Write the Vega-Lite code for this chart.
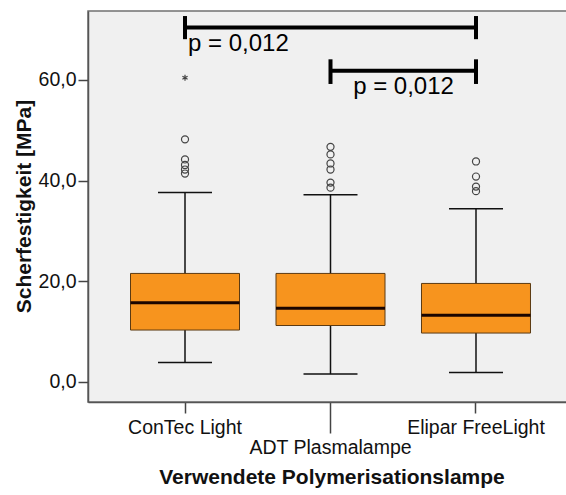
{
  "$schema": "https://vega.github.io/schema/vega-lite/v6.json",
  "width": 485,
  "height": 391,
  "autosize": {"type": "none"},
  "padding": {"left": 88, "top": 11, "right": -7, "bottom": 93},
  "background": "white",
  "config": {
    "font": "Liberation Sans",
    "view": {"fill": "#f0f0f0", "stroke": "#707070", "strokeWidth": 1.5},
    "axis": {"grid": false, "domainColor": "#555555", "domainWidth": 1.5, "tickColor": "#444444", "tickWidth": 1.5, "labelColor": "#111111", "labelFont": "Liberation Sans", "labelFontSize": 19.5, "titleFont": "Liberation Sans", "titleFontSize": 21, "titleFontWeight": "bold", "titleColor": "#111111"}
  },
  "datasets": {
    "boxes": [
      {"lamp": "ConTec Light", "lower": 3.86, "q1": 10.3, "median": 15.7, "q3": 21.55, "upper": 37.65},
      {"lamp": "ADT Plasmalampe", "lower": 1.55, "q1": 11.2, "median": 14.65, "q3": 21.55, "upper": 37.2},
      {"lamp": "Elipar FreeLight", "lower": 1.88, "q1": 9.7, "median": 13.26, "q3": 19.56, "upper": 34.4}
    ],
    "outliers": [
      {"lamp": "ConTec Light", "value": 60.45, "kind": "extreme"},
      {"lamp": "ConTec Light", "value": 48.2, "kind": "outlier"},
      {"lamp": "ConTec Light", "value": 44.2, "kind": "outlier"},
      {"lamp": "ConTec Light", "value": 43.1, "kind": "outlier"},
      {"lamp": "ConTec Light", "value": 42.2, "kind": "outlier"},
      {"lamp": "ConTec Light", "value": 41.4, "kind": "outlier"},
      {"lamp": "ADT Plasmalampe", "value": 46.7, "kind": "outlier"},
      {"lamp": "ADT Plasmalampe", "value": 45.2, "kind": "outlier"},
      {"lamp": "ADT Plasmalampe", "value": 43.4, "kind": "outlier"},
      {"lamp": "ADT Plasmalampe", "value": 42.2, "kind": "outlier"},
      {"lamp": "ADT Plasmalampe", "value": 39.6, "kind": "outlier"},
      {"lamp": "ADT Plasmalampe", "value": 38.6, "kind": "outlier"},
      {"lamp": "Elipar FreeLight", "value": 43.8, "kind": "outlier"},
      {"lamp": "Elipar FreeLight", "value": 40.8, "kind": "outlier"},
      {"lamp": "Elipar FreeLight", "value": 38.8, "kind": "outlier"},
      {"lamp": "Elipar FreeLight", "value": 37.9, "kind": "outlier"}
    ],
    "brackets": [
      {"from": "ConTec Light", "to": "Elipar FreeLight", "y": 70.4},
      {"from": "ADT Plasmalampe", "to": "Elipar FreeLight", "y": 61.85}
    ],
    "caps": [
      {"lamp": "ConTec Light", "lo": 68.1, "hi": 72.7},
      {"lamp": "Elipar FreeLight", "lo": 68.1, "hi": 72.7},
      {"lamp": "ADT Plasmalampe", "lo": 59.2, "hi": 64.1},
      {"lamp": "Elipar FreeLight", "lo": 59.2, "hi": 64.1}
    ],
    "labels1": [{"lamp": "ConTec Light", "y": 65.76, "text": "p = 0,012"}],
    "labels2": [{"lamp": "ADT Plasmalampe", "y": 57.2, "text": "p = 0,012"}]
  },
  "encoding": {
    "x": {
      "field": "lamp",
      "type": "nominal",
      "sort": ["ConTec Light", "ADT Plasmalampe", "Elipar FreeLight"],
      "scale": {"domain": ["ConTec Light", "ADT Plasmalampe", "Elipar FreeLight"], "paddingInner": 0, "paddingOuter": 0.1667, "align": 0.5, "round": false},
      "axis": {
        "title": "Verwendete Polymerisationslampe",
        "labelAngle": 0,
        "labelPadding": 5,
        "tickSize": {"condition": {"test": "datum.value === 'ADT Plasmalampe'", "value": 31}, "value": 11},
        "titleX": 243.5,
        "titleY": 81,
        "titleBaseline": "alphabetic",
        "titleAlign": "center"
      }
    }
  },
  "layer": [
    {
      "data": {"name": "boxes"},
      "mark": {"type": "rule", "color": "#111111", "strokeWidth": 1.5},
      "encoding": {
        "y": {
          "field": "lower", "type": "quantitative",
          "title": "Scherfestigkeit [MPa]",
          "scale": {"domain": [-4.0, 73.7], "nice": false, "zero": false},
          "axis": {
            "values": [0, 20, 40, 60],
            "labelExpr": "replace(format(datum.value, '.1f'), '.', ',')",
            "tickSize": 10,
            "labelPadding": 2,
            "titleX": -58,
            "titleY": 195,
            "titleAngle": -90,
            "titleBaseline": "alphabetic",
            "titleAlign": "center"
          }
        },
        "y2": {"field": "upper"}
      }
    },
    {
      "data": {"name": "boxes"},
      "mark": {"type": "tick", "color": "#111111", "opacity": 1, "size": 54, "thickness": 1.5},
      "encoding": {"y": {"field": "lower", "type": "quantitative", "title": "Scherfestigkeit [MPa]"}}
    },
    {
      "data": {"name": "boxes"},
      "mark": {"type": "tick", "color": "#111111", "opacity": 1, "size": 54, "thickness": 1.5},
      "encoding": {"y": {"field": "upper", "type": "quantitative", "title": "Scherfestigkeit [MPa]"}}
    },
    {
      "data": {"name": "boxes"},
      "mark": {"type": "bar", "fill": "#f7941e", "stroke": "#5c3a12", "strokeWidth": 1, "width": 109, "opacity": 1},
      "encoding": {
        "y": {"field": "q1", "type": "quantitative", "title": "Scherfestigkeit [MPa]"},
        "y2": {"field": "q3"}
      }
    },
    {
      "data": {"name": "boxes"},
      "mark": {"type": "tick", "color": "#1a0500", "opacity": 1, "size": 109, "thickness": 3},
      "encoding": {"y": {"field": "median", "type": "quantitative", "title": "Scherfestigkeit [MPa]"}}
    },
    {
      "data": {"name": "outliers"},
      "mark": {"type": "point", "filled": false, "stroke": "#444444", "strokeWidth": 1.2, "opacity": 1},
      "encoding": {
        "y": {"field": "value", "type": "quantitative", "title": "Scherfestigkeit [MPa]"},
        "shape": {"field": "kind", "type": "nominal", "legend": null, "scale": {"domain": ["outlier", "extreme"], "range": ["circle", "M0,-1L0,1M-0.866,-0.5L0.866,0.5M-0.866,0.5L0.866,-0.5"]}},
        "size": {"field": "kind", "type": "nominal", "legend": null, "scale": {"domain": ["outlier", "extreme"], "range": [50, 36]}}
      }
    },
    {
      "data": {"name": "brackets"},
      "mark": {"type": "rule", "color": "#000000", "strokeWidth": 4},
      "encoding": {
        "x": {"field": "from", "type": "nominal"},
        "x2": {"field": "to"},
        "y": {"field": "y", "type": "quantitative", "title": "Scherfestigkeit [MPa]"}
      }
    },
    {
      "data": {"name": "caps"},
      "mark": {"type": "rule", "color": "#000000", "strokeWidth": 4},
      "encoding": {
        "y": {"field": "lo", "type": "quantitative", "title": "Scherfestigkeit [MPa]"},
        "y2": {"field": "hi"}
      }
    },
    {
      "data": {"name": "labels1"},
      "mark": {"type": "text", "font": "Liberation Sans", "fontSize": 24, "align": "left", "baseline": "alphabetic", "dx": 3, "color": "#000000"},
      "encoding": {
        "y": {"field": "y", "type": "quantitative", "title": "Scherfestigkeit [MPa]"},
        "text": {"field": "text"}
      }
    },
    {
      "data": {"name": "labels2"},
      "mark": {"type": "text", "font": "Liberation Sans", "fontSize": 24, "align": "center", "baseline": "alphabetic", "dx": 73, "color": "#000000"},
      "encoding": {
        "y": {"field": "y", "type": "quantitative", "title": "Scherfestigkeit [MPa]"},
        "text": {"field": "text"}
      }
    }
  ]
}
